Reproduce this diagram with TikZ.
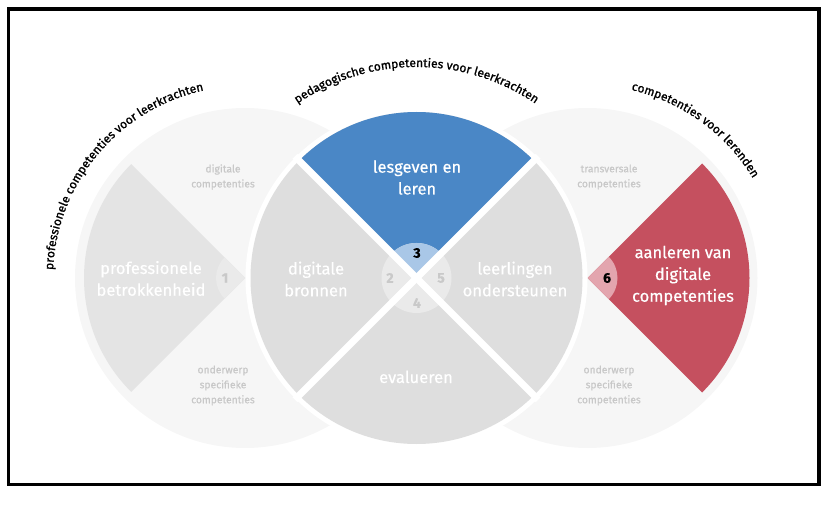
\documentclass[tikz,border=0pt]{standalone}
\usepackage{fontspec}
\setmainfont{Fira Sans}[FakeBold=0.5]
\newfontfamily\archfam{Fira Sans}[FakeBold=1.2]
\usetikzlibrary{decorations.text}
\definecolor{lightc}{HTML}{F6F6F6}
\definecolor{secgray}{HTML}{DEDEDE}
\definecolor{leftgray}{HTML}{E4E4E4}
\definecolor{smallgray}{HTML}{EAEAEA}
\definecolor{numgray}{HTML}{C9C9C9}
\definecolor{softtext}{HTML}{C8C8C8}
\definecolor{blueA}{HTML}{4A87C6}
\definecolor{blueB}{HTML}{A9C7E7}
\definecolor{redA}{HTML}{C5505F}
\definecolor{redB}{HTML}{E3A5AE}
\newcommand\archfont{\archfam\fontsize{12}{12}\selectfont}
\begin{document}
\begin{tikzpicture}[x=1pt,y=1pt,
  bigtext/.style={text=white, align=center, font=\fontsize{16.5}{21.8}\selectfont, inner sep=0pt},
  softlabel/.style={text=softtext, align=center, font=\fontsize{10.3}{15}\selectfont, inner sep=0pt},
  numlabel/.style={font=\fontsize{14}{14}\selectfont\bfseries, inner sep=0pt},
  gap/.style={draw=white, line width=7pt},
  arclabel/.style={decorate, decoration={text along path, text align=center, text={|\archfont|#1}}},
]
\useasboundingbox (0,0) rectangle (833,504);
\draw[line width=3.5pt] (8.5,19.5) rectangle (819,495);

\coordinate (L) at (245,226);
\coordinate (M) at (416.5,226);
\coordinate (R) at (587.5,226);

% outer light circles
\fill[lightc] (L) circle[radius=170];
\fill[lightc] (R) circle[radius=170];

% left sector
\fill[leftgray] (L) -- ([shift={(135:161)}]L) arc[start angle=135,end angle=225,radius=161] -- cycle;
\fill[smallgray] (L) -- ([shift={(135:29)}]L) arc[start angle=135,end angle=225,radius=29] -- cycle;

% right sector
\fill[redA] (R) -- ([shift={(-45:162)}]R) arc[start angle=-45,end angle=45,radius=162] -- cycle;
\fill[redB] (R) -- ([shift={(-45:30)}]R) arc[start angle=-45,end angle=45,radius=30] -- cycle;

% middle circle
\fill[white] (M) circle[radius=171];
\fill[secgray] (M) circle[radius=166];
\fill[blueA] (M) -- ([shift={(45:166)}]M) arc[start angle=45,end angle=135,radius=166] -- cycle;
\fill[smallgray] (M) circle[radius=35];
\fill[blueB] (M) -- ([shift={(45:35)}]M) arc[start angle=45,end angle=135,radius=35] -- cycle;

\coordinate (d1) at ([shift={(45:172)}]M);
\coordinate (d2) at ([shift={(225:172)}]M);
\coordinate (d3) at ([shift={(135:172)}]M);
\coordinate (d4) at ([shift={(-45:172)}]M);
\draw[gap] (d1) -- (d2);
\draw[gap] (d3) -- (d4);

% numbers
\node[numlabel, text=numgray] (n1) at (225,226) {1};
\node[numlabel, text=numgray] (n2) at (390,226) {2};
\node[numlabel] (n3) at (417,251) {3};
\node[numlabel, text=numgray] (n4) at (417,201) {4};
\node[numlabel, text=numgray] (n5) at (441,226) {5};
\node[numlabel] (n6) at (607,226) {6};

% sector texts
\node[bigtext] (t1) at (151,225.5) {professionele\\betrokkenheid};
\node[bigtext] (t2) at (316,225) {digitale\\bronnen};
\node[bigtext] (t3) at (417,326.5) {lesgeven en\\leren};
\node[bigtext] (t5) at (515,225) {leerlingen\\ondersteunen};
\node[bigtext, anchor=base] (t4) at (416,121) {evalueren};
\node[bigtext] (t6) at (683,228.5) {aanleren van\\digitale\\competenties};

% soft texts
\node[softlabel] (s1) at (223,327) {digitale\\competenties};
\node[softlabel] (s2) at (223,118.5) {onderwerp\\specifieke\\competenties};
\node[softlabel] (s3) at (609,327) {transversale\\competenties};
\node[softlabel] (s4) at (609,118.5) {onderwerp\\specifieke\\competenties};

% arched labels
\path[arclabel={professionele competenties voor leerkrachten}] ([shift={(200:192)}]L) arc[start angle=200,end angle=80,radius=192];
\path[arclabel={pedagogische competenties voor leerkrachten}] ([shift={(150:211)}]M) arc[start angle=150,end angle=30,radius=211];
\path[arclabel={competenties voor lerenden}] ([shift={(114:193)}]R) arc[start angle=114,end angle=-6,radius=193];
\end{tikzpicture}
\end{document}
